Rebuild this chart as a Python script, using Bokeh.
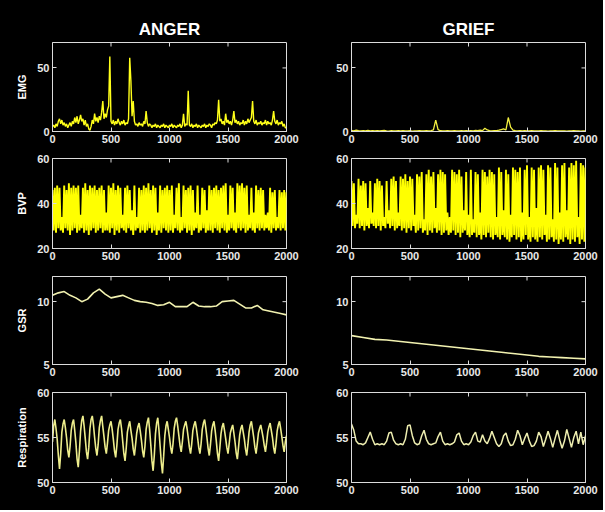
from bokeh.plotting import figure
from bokeh.layouts import gridplot
from bokeh.models import FixedTicker, Range1d
from bokeh.embed import file_html
from bokeh.resources import INLINE
import numpy as np

# ---------------- data ----------------
emotions = ["ANGER", "GRIEF"]
signals = ["EMG", "BVP", "GSR", "Respiration"]
x_ticks = [0, 500, 1000, 1500, 2000]

# EMG anger, one value every 10 samples
emg_anger_step = 10
emg_anger = [
    4, 5, 3, 6, 4, 8, 10, 6, 9, 5,
    7, 4, 6, 3, 5, 7, 4, 8, 6, 11,
    7, 12, 6, 9, 13, 8, 10, 5, 9, 4,
    6, 2, 1, 4, 9, 6, 14, 8, 11, 7,
    12, 9, 15, 24, 10, 14, 11, 17, 20, 59,
    8, 6, 9, 5, 8, 6, 10, 7, 5, 8,
    6, 9, 5, 7, 6, 10, 58, 40, 12, 24,
    8, 5, 6, 4, 7, 5, 6, 4, 8, 6,
    16, 7, 4, 6, 5, 3, 5, 4, 6, 3,
    5, 4, 3, 5, 4, 6, 3, 5, 4, 3,
    5, 4, 6, 3, 5, 4, 3, 5, 4, 6,
    3, 5, 14, 4, 6, 5, 32, 5, 4, 6,
    3, 5, 4, 6, 3, 5, 4, 3, 5, 4,
    6, 3, 5, 4, 6, 5, 3, 6, 5, 7,
    6, 9, 25, 8, 10, 6, 8, 5, 14, 7,
    9, 6, 8, 5, 9, 16, 7, 9, 6, 8,
    5, 7, 6, 9, 5, 8, 6, 10, 7, 9,
    11, 24, 8, 6, 9, 5, 7, 6, 8, 5,
    7, 6, 9, 5, 8, 6, 7, 5, 9, 16,
    8, 6, 9, 5, 7, 6, 8, 4, 6, 3,
    3,
]

# EMG grief, one value every 20 samples
emg_grief_step = 20
emg_grief = [
    0.8, 0.5, 1.0, 0.6, 0.4, 0.7, 0.5, 0.8, 0.4, 0.6,
    0.5, 0.7, 0.4, 0.6, 0.8, 0.5, 0.3, 0.6, 0.5, 0.4,
    0.6, 0.5, 0.7, 0.4, 0.5, 0.6, 0.3, 0.5, 0.4, 0.6,
    0.5, 0.4, 0.6, 0.5, 0.7, 1.2, 9.0, 1.5, 0.6, 0.4,
    0.5, 0.6, 0.4, 0.5, 0.7, 0.5, 0.4, 0.6, 0.5, 0.7,
    0.4, 0.6, 0.5, 0.8, 0.6, 1.0, 0.7, 2.5, 1.2, 0.6,
    0.5, 0.7, 0.6, 1.0, 1.5, 2.0, 1.2, 11.0, 3.5, 1.0,
    0.6, 0.5, 0.7, 0.4, 0.6, 0.5, 0.4, 0.6, 0.5, 0.4,
    0.5, 0.6, 0.4, 0.5, 0.3, 0.5, 0.4, 0.6, 0.4, 0.5,
    0.4, 0.5, 0.3, 0.5, 0.4, 0.6, 0.4, 0.5, 0.3, 0.4,
    0.4,
]

# BVP: beat peaks and troughs, alternating every 10 samples
bvp_step = 10
bvp_anger_peaks = [
    46, 47, 48, 47, 34, 48, 46, 49, 47, 48,
    47, 48, 35, 47, 49, 46, 48, 47, 48, 46,
    47, 48, 46, 36, 48, 47, 49, 46, 48, 47,
    35, 47, 48, 46, 37, 48, 34, 47, 46, 48,
    47, 49, 46, 48, 47, 36, 48, 46, 47, 48,
    46, 48, 35, 47, 49, 34, 48, 46, 47, 48,
    46, 36, 48, 35, 47, 46, 37, 48, 46, 47,
    48, 46, 47, 48, 49, 35, 48, 47, 36, 49,
    48, 49, 47, 48, 35, 47, 36, 48, 46, 47,
    46, 35, 36, 47, 45, 46, 34, 46, 45, 46,
    45,
]
bvp_anger_troughs = [
    28, 27, 29, 28, 27, 29, 28, 26, 28, 29,
    27, 28, 29, 27, 28, 26, 28, 29, 27, 28,
    29, 27, 28, 28, 27, 29, 26, 28, 27, 29,
    28, 27, 29, 28, 26, 28, 29, 27, 28, 27,
    28, 29, 27, 28, 26, 28, 27, 29, 28, 27,
    28, 27, 29, 28, 27, 28, 29, 27, 28, 26,
    28, 29, 27, 28, 29, 27, 28, 28, 27, 29,
    28, 27, 29, 28, 27, 28, 29, 28, 27, 29,
    28, 29, 27, 28, 29, 28, 27, 29, 28, 29,
    28, 29, 28, 27, 29, 28, 29, 28, 29, 28,
]
bvp_grief_peaks = [
    50, 49, 35, 51, 48, 50, 49, 38, 50, 36,
    49, 51, 50, 48, 34, 50, 37, 51, 52, 50,
    36, 52, 51, 53, 50, 52, 51, 35, 53, 52,
    54, 33, 53, 55, 52, 54, 38, 53, 55, 54,
    53, 36, 34, 55, 54, 53, 55, 52, 37, 54,
    35, 55, 33, 54, 53, 36, 55, 54, 52, 55,
    54, 53, 34, 56, 54, 37, 55, 53, 35, 56,
    55, 54, 56, 36, 55, 57, 34, 56, 55, 38,
    56, 57, 55, 35, 57, 56, 33, 58, 56, 36,
    57, 58, 37, 56, 58, 57, 59, 34, 58, 57,
    56,
]
bvp_grief_troughs = [
    30, 29, 31, 29, 30, 28, 30, 29, 31, 30,
    29, 30, 28, 30, 29, 31, 29, 30, 28, 29,
    30, 28, 29, 27, 29, 28, 30, 27, 28, 29,
    27, 28, 26, 28, 27, 29, 27, 28, 26, 27,
    28, 26, 27, 28, 26, 27, 25, 27, 28, 26,
    25, 26, 27, 25, 26, 24, 26, 25, 27, 25,
    24, 26, 25, 24, 26, 25, 24, 23, 25, 26,
    24, 25, 23, 24, 26, 24, 23, 25, 24, 23,
    25, 24, 26, 23, 24, 25, 23, 24, 22, 24,
    23, 25, 24, 22, 24, 23, 25, 22, 24, 23,
]

# GSR
gsr_anger_step = 50
gsr_anger = [
    10.5, 10.7, 10.8, 10.5, 10.3, 10.0, 10.2, 10.7, 11.0, 10.6,
    10.3, 10.4, 10.5, 10.3, 10.1, 10.0, 9.95, 9.85, 9.7, 9.75,
    9.95, 9.6, 9.6, 9.6, 9.95, 9.65, 9.6, 9.6, 9.65, 10.0,
    10.05, 10.1, 9.8, 9.5, 9.5, 9.7, 9.35, 9.25, 9.15, 9.05,
    8.95,
]
gsr_grief_step = 100
gsr_grief = [
    7.3, 7.15, 7.0, 6.95, 6.85, 6.75, 6.65, 6.55, 6.45, 6.35,
    6.25, 6.15, 6.05, 5.95, 5.85, 5.75, 5.65, 5.6, 5.55, 5.5,
    5.45,
]

# Respiration
resp_anger_step = 10
resp_anger = [
    54.5, 56.3, 57.0, 56.0, 54.8, 53.0, 51.5, 53.2,
    55.6, 56.5, 57.0, 56.1, 55.0, 53.6, 52.8, 54.0,
    55.8, 56.6, 57.0, 55.8, 54.4, 52.6, 51.7, 53.5,
    55.7, 56.9, 57.4, 56.3, 54.9, 53.4, 52.6, 53.9,
    56.0, 57.0, 57.4, 56.4, 55.0, 53.8, 53.0, 54.2,
    56.1, 56.9, 57.4, 56.2, 55.1, 53.9, 53.2, 54.4,
    55.8, 56.4, 56.8, 55.9, 54.8, 53.5, 52.8, 54.1,
    55.9, 56.6, 57.0, 56.0, 54.6, 53.2, 52.4, 53.8,
    55.6, 56.3, 56.8, 55.8, 54.9, 53.7, 53.0, 54.2,
    55.5, 56.2, 56.6, 55.7, 54.7, 53.5, 52.8, 54.0,
    55.9, 56.7, 57.2, 55.9, 54.2, 52.4, 51.3, 53.0,
    55.4, 56.6, 57.2, 55.8, 54.0, 52.2, 51.0, 52.9,
    55.2, 56.3, 56.8, 55.9, 55.0, 53.9, 53.2, 54.3,
    56.0, 56.8, 57.2, 56.3, 55.2, 54.1, 53.4, 54.5,
    55.9, 56.4, 56.8, 56.0, 55.0, 53.9, 53.2, 54.3,
    55.8, 56.4, 56.8, 56.0, 55.0, 53.9, 53.2, 54.3,
    55.9, 56.6, 57.0, 56.1, 55.0, 53.8, 53.0, 54.2,
    55.7, 56.4, 56.8, 55.8, 54.6, 53.2, 52.4, 53.8,
    55.4, 56.2, 56.6, 55.8, 54.9, 53.9, 53.2, 54.3,
    55.5, 56.0, 56.4, 55.5, 54.5, 53.3, 52.6, 53.9,
    55.3, 56.0, 56.4, 55.6, 54.8, 53.7, 53.0, 54.2,
    55.6, 56.4, 56.8, 55.9, 55.0, 53.9, 53.2, 54.3,
    55.5, 56.0, 56.4, 55.7, 55.0, 54.1, 53.4, 54.4,
    55.6, 56.2, 56.6, 55.8, 55.0, 53.9, 53.2, 54.3,
    55.7, 56.4, 56.8, 56.0, 55.1, 54.1, 53.4, 54.5,
    55.2,
]
resp_grief_step = 20
resp_grief = [
    56.5, 55.8, 54.6, 54.3, 54.3, 54.2, 54.4, 55.0, 55.6, 54.8,
    54.2, 54.3, 54.2, 54.3, 54.2, 54.6, 55.5, 55.6, 54.7, 54.3,
    54.2, 54.3, 54.2, 54.8, 56.3, 56.4, 55.2, 54.4, 54.2, 54.3,
    55.2, 55.8, 54.8, 54.3, 54.2, 54.3, 54.4, 55.1, 55.6, 54.6,
    54.2, 54.3, 54.2, 54.3, 54.5, 55.3, 55.5, 54.6, 54.2, 54.3,
    54.2, 54.5, 55.2, 55.6, 54.6, 54.5, 55.3, 54.6, 54.3, 54.9,
    55.7, 55.0, 54.3, 54.0, 54.3, 55.2, 55.5, 54.6, 54.1, 54.2,
    54.8, 55.8, 55.2, 54.2, 54.9, 55.5, 54.6, 54.0, 54.1, 54.6,
    55.6, 55.1, 54.0, 54.8, 55.7, 54.9, 53.9, 54.9, 55.8, 54.7,
    53.8, 54.6, 55.9, 54.9, 53.9, 55.0, 55.7, 54.3, 55.6, 54.2,
    55.2,
]

y_ranges = {"EMG": (0, 70), "BVP": (20, 60), "GSR": (5, 12), "Respiration": (50, 60)}
y_ticks = {"EMG": [0, 50], "BVP": [20, 40, 60], "GSR": [5, 10], "Respiration": [50, 55, 60]}

# ---------------- layout / style ----------------
FONT = "Liberation Sans"
FG = "#dcdcdc"
COL_BORDERS = [(52, 19), (46, 18)]          # (left, right)
ROW_BORDERS = [(42, 89, 22), (5, 90, 21), (7, 88, 22), (6, 90, 28)]  # (top, frame, bottom)
FRAME_W = 234


def style_axis(ax):
    ax.axis_line_color = FG
    ax.major_tick_line_color = FG
    ax.major_tick_in = 4
    ax.major_tick_out = 0
    ax.minor_tick_line_color = None
    ax.major_label_text_color = "#e8e8e8"
    ax.major_label_text_font = FONT
    ax.major_label_text_font_style = "bold"
    ax.major_label_text_font_size = "11px"
    ax.major_label_standoff = 3


def make_fig(col, row, sig):
    left, right = COL_BORDERS[col]
    top, fh, bottom = ROW_BORDERS[row]
    y0, y1 = y_ranges[sig]
    p = figure(
        width=left + FRAME_W + right, height=top + fh + bottom,
        x_range=Range1d(0, 2000), y_range=Range1d(y0, y1),
        output_backend="svg", toolbar_location=None, tools="",
        background_fill_color="black", border_fill_color="black",
        min_border_left=left, min_border_right=right,
        min_border_top=top, min_border_bottom=bottom,
        title=emotions[col] if row == 0 else None,
    )
    if row == 0:
        p.title.text_color = "white"
        p.title.text_font = FONT
        p.title.text_font_style = "bold"
        p.title.text_font_size = "17px"
        p.title.align = "center"
        p.title.standoff = 8
    p.outline_line_color = FG
    p.outline_line_width = 1
    p.grid.grid_line_color = None
    p.xaxis.ticker = FixedTicker(ticks=x_ticks)
    p.yaxis.ticker = FixedTicker(ticks=y_ticks[sig])
    for ax in p.xaxis + p.yaxis:
        style_axis(ax)
    if col == 0:
        p.yaxis.axis_label = sig
        p.yaxis.axis_label_text_color = "white"
        p.yaxis.axis_label_text_font = FONT
        p.yaxis.axis_label_text_font_style = "bold"
        p.yaxis.axis_label_text_font_size = "11px"
        p.yaxis.axis_label_standoff = 6
    # inward box ticks on the top and right edges (clipped to the frame)
    inner_x = x_ticks[1:-1]
    inner_y = y_ticks[sig]
    p.scatter(inner_x, [y1] * len(inner_x), marker="dash", angle=np.pi / 2,
              size=8, line_color=FG, line_width=1)
    p.scatter([2000] * len(inner_y), inner_y, marker="dash",
              size=8, line_color=FG, line_width=1)
    return p


def interleave(peaks, troughs):
    y = np.empty(len(peaks) + len(troughs))
    y[0::2] = peaks
    y[1::2] = troughs
    return y


series = {
    ("EMG", 0): (emg_anger_step, np.array(emg_anger, float), "#ffff1a", 1.4),
    ("EMG", 1): (emg_grief_step, np.array(emg_grief, float), "#f4f040", 1.3),
    ("BVP", 0): (bvp_step, interleave(bvp_anger_peaks, bvp_anger_troughs), "#ffff00", 1.9),
    ("BVP", 1): (bvp_step, interleave(bvp_grief_peaks, bvp_grief_troughs), "#ffff00", 1.9),
    ("GSR", 0): (gsr_anger_step, np.array(gsr_anger), "#f2f2b0", 1.6),
    ("GSR", 1): (gsr_grief_step, np.array(gsr_grief), "#f2f2b0", 1.6),
    ("Respiration", 0): (resp_anger_step, np.array(resp_anger), "#eded8c", 1.6),
    ("Respiration", 1): (resp_grief_step, np.array(resp_grief), "#eeeeb0", 1.5),
}

rows = []
for r, sig in enumerate(signals):
    row = []
    for c in range(2):
        p = make_fig(c, r, sig)
        step, ys, color, lw = series[(sig, c)]
        xs = np.arange(len(ys)) * step
        p.line(xs, ys, line_color=color, line_width=lw)
        row.append(p)
    rows.append(row)

grid = gridplot(rows, toolbar_location=None)
grid.styles = {"background-color": "black"}
open("out.html", "w").write(file_html(grid, INLINE))
